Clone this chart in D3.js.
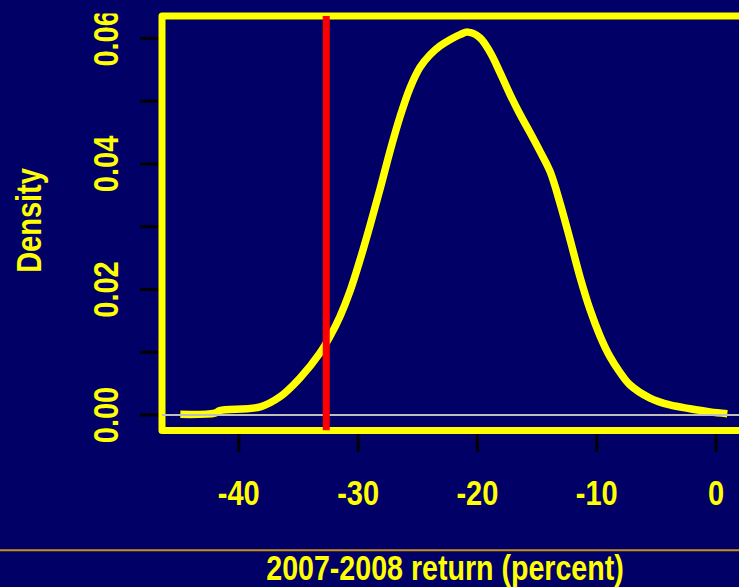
<!DOCTYPE html>
<html>
<head>
<meta charset="utf-8">
<script src="https://cdn.jsdelivr.net/npm/d3@7"></script>
<style>
  html, body { margin: 0; padding: 0; background: #000066; }
  svg { display: block; }
  text { font-family: "Liberation Sans", Arial, Helvetica, sans-serif; font-weight: bold; fill: #ffff00; }
</style>
</head>
<body>
<script>
// ---- data ----
const densityX = [-44.9, -42.0, -41.6, -38.2, -36.55, -34.87, -33.19, -32.36, -31.52, -30.68, -29.84, -29.0,
  -28.16, -27.33, -26.49, -25.65, -24.81, -23.97, -23.14, -22.3, -21.46, -20.8, -19.78, -18.94, -18.11,
  -17.27, -16.43, -15.59, -14.75, -13.91, -13.08, -12.24, -11.4, -10.56, -9.72, -8.89, -8.05, -7.21,
  -5.53, -3.86, -2.18, -0.5, 0.95];
const densityY = [0.0001, 0.0003, 0.0007, 0.0013, 0.0029, 0.0059, 0.0099, 0.0125, 0.0157, 0.0197, 0.0247,
  0.0302, 0.0360, 0.0420, 0.0475, 0.0521, 0.0554, 0.0574, 0.0588, 0.0598, 0.0606, 0.0610, 0.0601, 0.0578,
  0.0546, 0.0511, 0.0479, 0.0450, 0.0420, 0.0388, 0.0338, 0.0280, 0.0220, 0.0168, 0.0126, 0.0093, 0.0068,
  0.0048, 0.0027, 0.0016, 0.0010, 0.0005, 0.0002];
const markerValue = -32.67;
const xTicks = [-40, -30, -20, -10, 0];
const xTickLabels = ["-40", "-30", "-20", "-10", "0"];
const yTicks = [0, 0.01, 0.02, 0.03, 0.04, 0.05, 0.06];
const yTickLabels = ["0.00", "", "0.02", "", "0.04", "", "0.06"];
const xTitle = "2007-2008 return (percent)";
const yTitle = "Density";

// ---- layout ----
const W = 739, H = 587;
const plot = { left: 162, top: 16, right: 900, bottom: 430.5 };

const x = d3.scaleLinear().domain([-40, 0]).range([238.8, 716]);
const y = d3.scaleLinear().domain([0, 0.06]).range([415, 38.4]);

const svg = d3.select("body").append("svg").attr("width", W).attr("height", H);
svg.append("rect").attr("width", W).attr("height", H).attr("fill", "#000066");

const defs = svg.append("defs");
defs.append("clipPath").attr("id", "plotclip").append("rect")
  .attr("x", plot.left).attr("y", plot.top)
  .attr("width", plot.right - plot.left).attr("height", plot.bottom - plot.top);
defs.append("clipPath").attr("id", "figclip").append("rect")
  .attr("x", 0).attr("y", 13.5).attr("width", W).attr("height", H - 13.5);

// orange separator line
svg.append("line").attr("x1", 0).attr("x2", W).attr("y1", 550.2).attr("y2", 550.2)
  .attr("stroke", "#c8901c").attr("stroke-width", 2);

// y ticks
svg.append("g").selectAll("line").data(yTicks).join("line")
  .attr("x1", plot.left - 22).attr("x2", plot.left)
  .attr("y1", d => y(d)).attr("y2", d => y(d))
  .attr("stroke", "#000000").attr("stroke-width", 3);
// x ticks
svg.append("g").selectAll("line").data(xTicks).join("line")
  .attr("x1", d => x(d)).attr("x2", d => x(d))
  .attr("y1", plot.bottom).attr("y2", 452)
  .attr("stroke", "#000000").attr("stroke-width", 3);

// box
svg.append("rect").attr("x", plot.left).attr("y", plot.top)
  .attr("width", plot.right - plot.left).attr("height", plot.bottom - plot.top)
  .attr("fill", "none").attr("stroke", "#ffff00").attr("stroke-width", 7)
  .attr("stroke-linejoin", "round");

const inner = svg.append("g").attr("clip-path", "url(#plotclip)");

// density curve
const pts = densityX.map((d, i) => [d, densityY[i]]);
inner.append("path").datum(pts)
  .attr("d", d3.line().x(d => x(d[0])).y(d => y(d[1])).curve(d3.curveCatmullRom.alpha(0.5)))
  .attr("fill", "none").attr("stroke", "#ffff00").attr("stroke-width", 7.5)
  .attr("stroke-linejoin", "round").attr("stroke-linecap", "butt");

// zero line
inner.append("line").attr("x1", plot.left - 2).attr("x2", W + 10)
  .attr("y1", y(0)).attr("y2", y(0))
  .attr("stroke", "#bebebe").attr("stroke-width", 2);

// red marker line
inner.append("line").attr("x1", x(markerValue)).attr("x2", x(markerValue))
  .attr("y1", plot.top).attr("y2", plot.bottom)
  .attr("stroke", "#ff0000").attr("stroke-width", 7);

// x tick labels
svg.append("g").selectAll("text").data(xTicks).join("text")
  .attr("transform", d => `translate(${x(d)},505) scale(1,1.2)`)
  .attr("text-anchor", "middle").attr("font-size", 29)
  .text((d, i) => xTickLabels[i]);

// y tick labels
svg.append("g").attr("clip-path", "url(#figclip)")
  .selectAll("text").data(yTicks).join("text")
  .attr("transform", d => `translate(118,${y(d)}) rotate(-90) scale(1,1.2)`)
  .attr("text-anchor", "middle").attr("font-size", 29)
  .text((d, i) => yTickLabels[i]);

// titles
svg.append("text").attr("transform", "translate(445,580) scale(1,1.2)")
  .attr("text-anchor", "middle").attr("font-size", 28.6).text(xTitle);
svg.append("text").attr("transform", "translate(40.7,220.5) rotate(-90) scale(1,1.2)")
  .attr("text-anchor", "middle").attr("font-size", 29).text(yTitle);
</script>
</body>
</html>
